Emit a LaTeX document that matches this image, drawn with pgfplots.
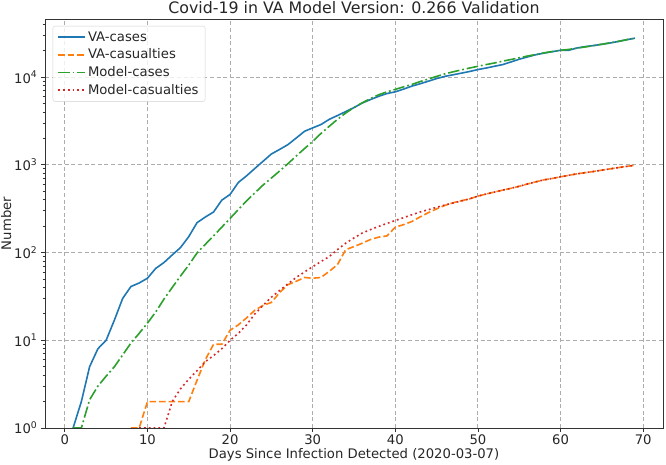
\documentclass[border=0pt]{standalone}
\usepackage{fontspec}
\setmainfont{DejaVu Sans}
\usepackage{pgfplots}
\pgfplotsset{compat=1.18}
\definecolor{c0}{HTML}{1F77B4}
\definecolor{c1}{HTML}{FF7F0E}
\definecolor{c2}{HTML}{2CA02C}
\definecolor{c3}{HTML}{D62728}
\begin{document}
\begin{tikzpicture}
\begin{axis}[
  at={(0,0)}, anchor=south west,
  scale only axis, width=618bp, height=409bp,
  ymode=log, log basis y=10,
  xmin=-2.4, xmax=72.4, ymin=1, ymax=46000,
  xtick={0,10,20,30,40,50,60,70},
  ytick={1,10,100,1000,10000},
  yticklabels={10\textsuperscript{0},10\textsuperscript{1},10\textsuperscript{2},10\textsuperscript{3},10\textsuperscript{4}},
  minor ytick={2,3,4,5,6,7,8,9,20,30,40,50,60,70,80,90,200,300,400,500,600,700,800,900,2000,3000,4000,5000,6000,7000,8000,9000,20000,30000,40000},
  /pgf/number format/assume math mode=true,
  tick label style={font=\fontsize{13.2bp}{15bp}\selectfont, text=black!85},
  label style={font=\fontsize{13.2bp}{15bp}\selectfont, text=black!85},
  title style={font=\fontsize{15.8bp}{18bp}\selectfont, text=black!85, yshift=-4bp},
  title={Covid-19 in VA Model Version: 0.266 Validation},
  xlabel={Days Since Infection Detected (2020-03-07)},
  ylabel={Number},
  xlabel style={yshift=3.5bp},
  ylabel style={yshift=-4bp},
  xticklabel style={yshift=1bp},
  tick align=outside, xtick pos=bottom, ytick pos=left,
  major tick length=4.2bp, minor tick length=2.4bp,
  tick style={black!80, line width=0.8bp},
  axis line style={black!80, line width=0.9bp},
  grid=major,
  major grid style={gray!65, line width=0.9bp, dash pattern=on 4bp off 2.6bp},
  legend cell align=left,
  legend style={at={(0.0125,0.983)}, anchor=north west, draw=gray!35, rounded corners=2bp,
    fill=white, fill opacity=0.8, text opacity=1,
    font=\fontsize{13.2bp}{15bp}\selectfont, text=black!85,
    row sep=2.2bp, inner xsep=4.5bp, inner ysep=3.5bp,
    /tikz/every even column/.append style={column sep=2bp}},
  legend image code/.code={\draw[#1] (0bp,0bp) -- (27bp,0bp);},
  every axis plot/.append style={line width=1.6bp, line cap=butt},
]
\addplot[c0] coordinates {
(1,1)(2,2)(3,5)(4,8)(5,10)(6,17)(7,30)(8,41)(9,45)(10,51)
(11,66)(12,77)(13,94)(14,114)(15,152)(16,219)(17,254)(18,290)(19,396)(20,460)
(21,630)(22,750)(23,910)(24,1100)(25,1330)(26,1500)(27,1700)(28,2020)(29,2410)(30,2640)
(31,2880)(32,3300)(33,3650)(34,4050)(35,4500)(36,5070)(37,5550)(38,6050)(39,6500)(40,6800)
(41,7300)(42,7900)(43,8400)(44,8990)(45,9630)(46,10200)(47,10640)(48,11100)(49,11600)(50,12200)
(51,12700)(52,13300)(53,13900)(54,14900)(55,16000)(56,17000)(57,18000)(58,18800)(59,19500)(60,20250)
(61,20250)(62,21500)(63,22300)(64,22900)(65,23700)(66,24500)(67,25500)(68,26700)(69,27800)
};
\addlegendentry{VA-cases}
\addplot[c1, dash pattern=on 6.6bp off 2.9bp] coordinates {
(8,1)(9,1)(10,2)(11,2)(12,2)(13,2)(14,2)(15,2)(16,3.5)(17,6)(18,9)(19,9)(20,13)
(21,15)(22,18)(23,22)(24,25)(25,27)(26,35)(27,43)(28,47)(29,52)(30,51)
(31,52)(32,61)(33,73)(34,108)(35,117)(36,128)(37,141)(38,150)(39,155)(40,195)
(41,208)(42,226)(43,255)(44,285)(45,315)(46,345)(47,370)(48,390)(49,410)(50,440)
(51,465)(52,490)(53,515)(54,540)(55,570)(56,605)(57,640)(58,675)(59,700)(60,730)
(61,760)(62,790)(63,815)(64,840)(65,870)(66,900)(67,930)(68,960)(69,990)
};
\addlegendentry{VA-casualties}
\addplot[c2, dash pattern=on 11.5bp off 2.9bp on 1.8bp off 2.9bp] coordinates {
(1,1)(2,1)(3,2.1)(4,3)(5,3.9)(6,5)(7,6.8)(8,9.3)(9,12)(10,15.7)
(11,21)(12,29.5)(13,40)(14,54)(15,72)(16,99)(17,124)(18,155)(19,195)(20,245)
(21,309)(22,389)(23,479)(24,589)(25,708)(26,851)(27,1030)(28,1260)(29,1530)(30,1850)
(31,2280)(32,2750)(33,3300)(34,3900)(35,4500)(36,5100)(37,5700)(38,6300)(39,6800)(40,7250)
(41,7750)(42,8250)(43,8900)(44,9500)(45,10200)(46,10900)(47,11500)(48,12100)(49,12700)(50,13300)
(51,13900)(52,14500)(53,15200)(54,15900)(55,16600)(56,17400)(57,18100)(58,18900)(59,19600)(60,20200)
(61,20700)(62,21400)(63,22100)(64,22900)(65,23700)(66,24600)(67,25600)(68,26700)(69,27800)
};
\addlegendentry{Model-cases}
\addplot[c3, dash pattern=on 1.8bp off 3bp] coordinates {
(9,1)(10,1)(11,1)(12,1)(13,2)(14,2.8)(15,3.6)(16,4.5)(17,5.7)(18,6.7)(19,8)(20,10)
(21,12)(22,15)(23,20)(24,25)(25,31)(26,37)(27,44)(28,52)(29,60)(30,69)
(31,79)(32,90)(33,108)(34,128)(35,147)(36,167)(37,183)(38,199)(39,215)(40,232)
(41,250)(42,270)(43,290)(44,308)(45,328)(46,348)(47,368)(48,388)(49,410)(50,440)
(51,465)(52,490)(53,515)(54,540)(55,570)(56,605)(57,640)(58,675)(59,700)(60,730)
(61,760)(62,790)(63,815)(64,840)(65,870)(66,900)(67,930)(68,960)(69,990)
};
\addlegendentry{Model-casualties}
\end{axis}
\pgfresetboundingbox
\path[use as bounding box] (-45bp,-37bp) rectangle (621bp,428bp);
\end{tikzpicture}
\end{document}
